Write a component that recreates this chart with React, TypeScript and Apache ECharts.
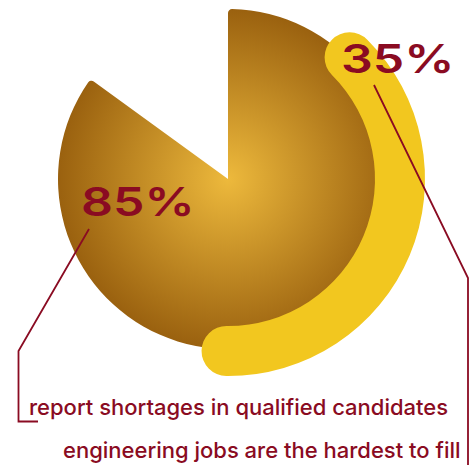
import React, { useEffect, useRef } from "react";
import * as echarts from "echarts";

// Data
const pieValues = [85, 15]; // share reporting shortages, remainder
const ringValue = [35]; // engineering jobs hardest to fill
const ringAxisMax = 93; // angular scale used for the ring
const captions = [
  "report shortages in qualified candidates",
  "engineering jobs are the hardest to fill",
];

const MAROON = "#8A0B22";
const YELLOW = "#F2C71F";

export default function App() {
  const ref = useRef<HTMLDivElement>(null);
  useEffect(() => {
    if (!ref.current) return;
    const chart = echarts.init(ref.current, undefined, { renderer: "svg" });
    const center = [228, 179];
    chart.setOption({
      animation: false,
      polar: { center, radius: [147, 197] },
      angleAxis: {
        type: "value",
        startAngle: 45,
        min: 0,
        max: ringAxisMax,
        clockwise: true,
        show: false,
      },
      radiusAxis: { type: "category", data: ["ring"], show: false },
      series: [
        {
          type: "pie",
          center,
          radius: [0, 170],
          startAngle: 90,
          clockwise: true,
          silent: true,
          z: 1,
          label: { show: false },
          labelLine: { show: false },
          emphasis: { disabled: true },
          itemStyle: { borderRadius: 4 },
          data: [
            {
              value: pieValues[0],
              itemStyle: {
                color: {
                  type: "radial",
                  x: 0.5,
                  y: 0.5,
                  r: 0.5,
                  colorStops: [
                    { offset: 0, color: "#EDB93C" },
                    { offset: 1, color: "#9A610F" },
                  ],
                },
              },
            },
            { value: pieValues[1], itemStyle: { color: "rgba(0,0,0,0)" } },
          ],
        },
        {
          type: "bar",
          coordinateSystem: "polar",
          data: ringValue,
          barWidth: 50,
          roundCap: true,
          silent: true,
          z: 3,
          itemStyle: { color: YELLOW },
        },
      ],
      graphic: [
        {
          type: "polyline",
          z: 50,
          shape: { points: [[89, 229], [18.5, 351], [18.5, 421.5], [38, 421.5]] },
          style: { stroke: MAROON, lineWidth: 1.8, fill: null },
        },
        {
          type: "polyline",
          z: 50,
          shape: { points: [[374, 85], [468, 278], [468, 470]] },
          style: { stroke: MAROON, lineWidth: 1.8, fill: null },
        },
        {
          type: "text",
          z: 60,
          x: 341,
          y: 38,
          scaleX: 1.25,
          style: {
            text: `${ringValue[0]}%`,
            fill: MAROON,
            font: "600 40px Inter",
            verticalAlign: "top",
          },
        },
        {
          type: "text",
          z: 60,
          x: 81,
          y: 181,
          scaleX: 1.25,
          style: {
            text: `${pieValues[0]}%`,
            fill: MAROON,
            font: "600 40px Inter",
            verticalAlign: "top",
          },
        },
        {
          type: "text",
          z: 60,
          x: 29,
          y: 396,
          style: {
            text: captions[0],
            fill: MAROON,
            font: "500 22px Inter",
            verticalAlign: "top",
          },
        },
        {
          type: "text",
          z: 60,
          x: 63,
          y: 439,
          style: {
            text: captions[1],
            fill: MAROON,
            font: "500 22px Inter",
            verticalAlign: "top",
          },
        },
      ],
    });
    return () => chart.dispose();
  }, []);
  return (
    <div
      ref={ref}
      style={{ position: "absolute", left: 0, top: 0, width: 476, height: 465 }}
    />
  );
}
